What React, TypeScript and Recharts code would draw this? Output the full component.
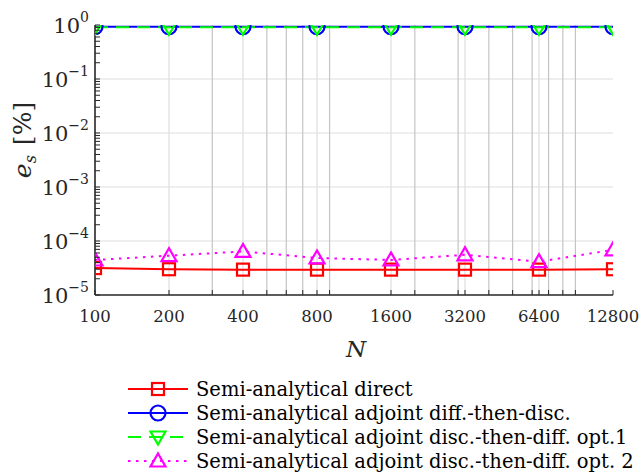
import React from "react";
import { LineChart, Line, XAxis, YAxis, ReferenceLine, Legend } from "recharts";

const nValues = [100, 200, 400, 800, 1600, 3200, 6400, 12800];
const semiDirect = [3.15e-5, 3.0e-5, 2.95e-5, 2.95e-5, 2.95e-5, 2.95e-5, 2.95e-5, 3.0e-5];
const adjointDiffDisc = [0.93, 0.93, 0.93, 0.93, 0.93, 0.93, 0.93, 0.93];
const adjointDiscDiff1 = [0.91, 0.91, 0.91, 0.91, 0.91, 0.91, 0.91, 0.91];
const adjointDiscDiff2 = [4.45e-5, 5.35e-5, 6.4e-5, 4.85e-5, 4.45e-5, 5.55e-5, 4.15e-5, 6.85e-5];

const xMinorGrid = [300, 500, 600, 700, 900, 2000, 3000, 4000, 5000, 6000, 7000, 8000, 9000];
const xTicks = [...nValues, ...xMinorGrid].sort((a, b) => a - b);
const yDecades = [1e-5, 1e-4, 1e-3, 1e-2, 1e-1, 1];
const yMinor = yDecades.slice(0, -1).flatMap((d) => [2, 3, 4, 5, 6, 7, 8, 9].map((m) => m * d));
const yTicks = [...yDecades, ...yMinor].sort((a, b) => a - b);

const data = nValues.map((n, i) => ({
  n,
  direct: semiDirect[i],
  diffDisc: adjointDiffDisc[i],
  discDiff1: adjointDiscDiff1[i],
  discDiff2: adjointDiscDiff2[i],
}));

type Shape = "square" | "circle" | "down" | "up";

const series: { key: string; name: string; color: string; dash?: string; shape: Shape }[] = [
  { key: "direct", name: "Semi-analytical direct", color: "#ff0000", shape: "square" },
  { key: "diffDisc", name: "Semi-analytical adjoint diff.-then-disc.", color: "#0000ff", shape: "circle" },
  { key: "discDiff1", name: "Semi-analytical adjoint disc.-then-diff. opt.1", color: "#00ff00", dash: "13 8", shape: "down" },
  { key: "discDiff2", name: "Semi-analytical adjoint disc.-then-diff. opt. 2", color: "#ff00ff", dash: "2.5 5.5", shape: "up" },
];

const FONT = "DejaVu Serif";
const AXIS = "#262626";

function Marker({ shape, cx, cy, color }: { shape: Shape; cx: number; cy: number; color: string }) {
  const common = { fill: "none", stroke: color, strokeWidth: 2.2 };
  if (shape === "square") return <rect x={cx - 6} y={cy - 6} width={12} height={12} {...common} />;
  if (shape === "circle") return <circle cx={cx} cy={cy} r={7.5} {...common} />;
  if (shape === "down")
    return <polygon points={`${cx - 7.5},${cy - 5.5} ${cx + 7.5},${cy - 5.5} ${cx},${cy + 7.5}`} {...common} />;
  return <polygon points={`${cx - 7.5},${cy + 5.5} ${cx + 7.5},${cy + 5.5} ${cx},${cy - 7.5}`} {...common} />;
}

const isDecade = (v: number) => yDecades.includes(v);
const isMajorN = (v: number) => nValues.includes(v);

function BottomTick(props: any) {
  const { x, y, payload } = props;
  return (
    <g>
      <line x1={x} x2={x} y1={y} y2={y - 5} stroke={AXIS} strokeWidth={1} />
      {isMajorN(payload.value) && (
        <text x={x} y={y + 27} textAnchor="middle" fontFamily={FONT} fontSize={16.5} fill={AXIS}>
          {payload.value}
        </text>
      )}
    </g>
  );
}

function TopTick(props: any) {
  const { x, y } = props;
  return <line x1={x} x2={x} y1={y} y2={y + 5} stroke={AXIS} strokeWidth={1} />;
}

function LeftTick(props: any) {
  const { x, y, payload } = props;
  const v = payload.value;
  const exp = Math.round(Math.log10(v));
  return (
    <g>
      <line x1={x} x2={x + 5} y1={y} y2={y} stroke={AXIS} strokeWidth={1} />
      {isDecade(v) && (
        <text x={x - 6} y={y + 8} textAnchor="end" fontFamily={FONT} fontSize={21} fill={AXIS}>
          10
          <tspan dy={-11} fontSize={14}>
            {exp === 0 ? "0" : "\u2212" + -exp}
          </tspan>
        </text>
      )}
    </g>
  );
}

function RightTick(props: any) {
  const { x, y } = props;
  return <line x1={x} x2={x - 5} y1={y} y2={y} stroke={AXIS} strokeWidth={1} />;
}

function LegendBox() {
  return (
    <div style={{ fontFamily: FONT, fontSize: 19.5, color: "#000" }}>
      {series.map((s) => (
        <div key={s.key} style={{ display: "flex", alignItems: "center", height: 24 }}>
          <svg width={68} height={24} style={{ flex: "none" }}>
            <line x1={0} x2={60} y1={12} y2={12} stroke={s.color} strokeWidth={2} strokeDasharray={s.dash} />
            <Marker shape={s.shape} cx={30} cy={12} color={s.color} />
          </svg>
          <span style={{ whiteSpace: "nowrap" }}>{s.name}</span>
        </div>
      ))}
    </div>
  );
}

export default function App() {
  return (
    <div style={{ position: "absolute", left: 0, top: 0, width: 640, height: 474, background: "#fff" }}>
      <LineChart width={640} height={474} data={data} margin={{ top: 25, right: 27, bottom: 0, left: 35 }}>
        <XAxis
          dataKey="n"
          type="number"
          scale="log"
          domain={[100, 12800]}
          allowDataOverflow
          ticks={xTicks}
          interval={0}
          tickSize={0}
          tickMargin={0}
          tickLine={false}
          tick={<BottomTick />}
          height={179}
          axisLine={{ stroke: AXIS, strokeWidth: 1.6 }}
          label={{
            content: ({ viewBox }: any) => (
              <text
                x={viewBox.x + viewBox.width / 2 + 2}
                y={viewBox.y + 62}
                textAnchor="middle"
                fontFamily={FONT}
                fontStyle="italic"
                fontSize={23}
                fill={AXIS}
              >
                N
              </text>
            ),
          }}
        />
        <XAxis
          xAxisId="top"
          orientation="top"
          type="number"
          scale="log"
          domain={[100, 12800]}
          allowDataOverflow
          ticks={xTicks}
          interval={0}
          tickSize={0}
          tickMargin={0}
          tickLine={false}
          tick={<TopTick />}
          height={0}
          axisLine={{ stroke: AXIS, strokeWidth: 1.6 }}
        />
        <YAxis
          type="number"
          scale="log"
          domain={[1e-5, 1]}
          allowDataOverflow
          ticks={yTicks}
          interval={0}
          tickSize={0}
          tickMargin={0}
          tickLine={false}
          tick={<LeftTick />}
          width={60}
          axisLine={{ stroke: AXIS, strokeWidth: 1.6 }}
          label={{
            content: ({ viewBox }: any) => (
              <text
                transform={`translate(${viewBox.x - 12}, ${viewBox.y + 115}) rotate(-90)`}
                x={0}
                y={8}
                textAnchor="middle"
                fontFamily={FONT}
                fontSize={25}
                fill={AXIS}
              >
                <tspan fontStyle="italic">e</tspan>
                <tspan fontSize={16} dy={5} fontStyle="italic">
                  s
                </tspan>
                <tspan dy={-5} dx={10}>
                  [%]
                </tspan>
              </text>
            ),
          }}
        />
        <YAxis
          yAxisId="right"
          orientation="right"
          type="number"
          scale="log"
          domain={[1e-5, 1]}
          allowDataOverflow
          ticks={yTicks}
          interval={0}
          tickSize={0}
          tickMargin={0}
          tickLine={false}
          tick={<RightTick />}
          width={0}
          axisLine={{ stroke: AXIS, strokeWidth: 1.6 }}
        />
        {yDecades.slice(1, -1).map((v) => (
          <ReferenceLine key={`h${v}`} y={v} stroke="#dedede" strokeWidth={1.2} />
        ))}
        {xMinorGrid.map((v) => (
          <ReferenceLine key={`m${v}`} x={v} stroke="#c4c4c4" strokeWidth={1.2} />
        ))}
        {nValues.slice(1, -1).map((v) => (
          <ReferenceLine key={`v${v}`} x={v} stroke="#dedede" strokeWidth={1.2} />
        ))}
        {series.map((s) => (
          <Line
            key={s.key}
            dataKey={s.key}
            name={s.name}
            stroke={s.color}
            strokeWidth={2}
            strokeDasharray={s.dash}
            isAnimationActive={false}
            dot={(p: any) => <Marker key={`${s.key}-${p.index}`} shape={s.shape} cx={p.cx} cy={p.cy} color={s.color} />}
            activeDot={false}
          />
        ))}
        <Legend
          layout="horizontal"
          verticalAlign="middle"
          align="center"
          wrapperStyle={{ top: 377, left: 128, width: 510 }}
          content={() => <LegendBox />}
        />
      </LineChart>
    </div>
  );
}
